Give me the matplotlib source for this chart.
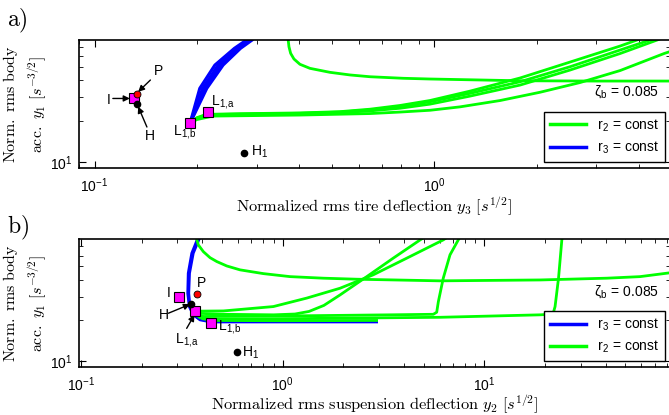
import numpy as np
import matplotlib
matplotlib.use('Agg')
import matplotlib.pyplot as plt
from matplotlib.lines import Line2D
from matplotlib.ticker import NullFormatter

plt.rcParams['font.family'] = ['Liberation Sans', 'DejaVu Sans']
plt.rcParams['mathtext.fontset'] = 'cm'

GREEN = '#00ff00'
BLUE = '#0000ff'

# ---------------- panel a) : body acc. vs tire deflection ----------------
# r3 = const (blue band, several close curves)
a_blue_y = [19.4, 35.0, 51.9, 68.9, 79.3, 90.0]
a_blue_x1 = [0.191, 0.204, 0.226, 0.258, 0.280, 0.292]
a_blue_x2 = [0.191, 0.208, 0.231, 0.262, 0.284, 0.297]
a_blue_x3 = [0.191, 0.211, 0.235, 0.266, 0.288, 0.301]
a_blue_x4 = [0.191, 0.214, 0.239, 0.269, 0.291, 0.305]

# r2 = const (green)
a_g0_x = [0.3712, 0.3715, 0.3734, 0.3777, 0.3863, 0.4022, 0.4305, 0.493, 0.565, 0.647, 0.810, 0.970, 1.79, 3.0, 5.2]
a_g0_y = [85.0, 79.3, 70.8, 63.3, 57.5, 52.6, 49.1, 45.9, 43.9, 42.6, 41.5, 41.0, 39.8, 39.6, 39.6]

a_g1_x = [0.191, 0.200, 0.2084, 0.223, 0.2679, 0.4022, 0.5276, 0.6466, 0.7924, 0.9712, 1.274, 1.788, 2.509, 3.523, 3.95, 4.25]
a_g1_y = [19.4, 21.3, 22.1, 22.6, 22.8, 23.1, 23.6, 24.6, 26.2, 28.5, 33.4, 41.7, 54.6, 71.6, 79.3, 86.0]
a_g2_x = [0.191, 0.200, 0.2084, 0.223, 0.2679, 0.4022, 0.5276, 0.6466, 0.7924, 0.9712, 1.274, 1.788, 2.509, 3.523, 4.316, 4.618]
a_g2_y = [19.4, 21.17, 21.9, 22.46, 22.65, 22.96, 23.44, 24.32, 25.72, 27.9, 32.17, 39.14, 50.46, 66.94, 79.3, 84.9]
a_g3_x = [0.191, 0.200, 0.2084, 0.223, 0.2679, 0.4022, 0.5276, 0.6466, 0.7924, 0.9712, 1.274, 1.788, 2.509, 3.523, 4.53, 4.9]
a_g3_y = [19.4, 21.0, 21.7, 22.3, 22.5, 22.8, 23.2, 23.9, 25.0, 26.8, 30.7, 37.0, 47.7, 63.1, 79.3, 86.0]
a_g4_x = [0.191, 0.200, 0.223, 0.4022, 0.6466, 0.7924, 0.9712, 1.190, 1.561, 2.048, 2.687, 3.523, 4.746, 5.2]
a_g4_y = [19.4, 20.64, 21.9, 22.28, 22.85, 23.44, 24.16, 25.59, 28.48, 32.77, 38.63, 47.3, 63.1, 68.0]

# marked designs
a_sq_x = [0.1306, 0.216, 0.191]   # I, L1a, L1b
a_sq_y = [29.5, 23.3, 19.4]
a_P = (0.133, 31.8)
a_H = (0.133, 26.8)
a_H1 = (0.276, 11.8)

# ---------------- panel b) : body acc. vs suspension deflection ----------------
b_blue1_x = [0.385, 0.377, 0.354, 0.340, 0.338, 0.344, 0.360, 0.389, 0.441, 1.22, 2.92]
b_blue1_y = [85.0, 78.6, 62.4, 44.5, 31.7, 25.3, 22.0, 20.2, 19.5, 19.5, 19.5]
b_blue2_x = [0.392, 0.384, 0.360, 0.345, 0.342, 0.347, 0.362, 0.390, 0.441, 1.22, 2.92]
b_blue2_y = [85.0, 78.6, 62.4, 44.5, 31.7, 25.3, 22.0, 20.4, 19.7, 19.7, 19.7]

b_g0_x = [0.375, 0.375, 0.3815, 0.404, 0.436, 0.471, 0.528, 0.614, 0.801, 1.087, 1.59, 2.33, 6.03, 18.9, 40.4, 59.1, 85.0]
b_g0_y = [85.0, 78.6, 71.9, 64.1, 57.9, 54.2, 50.3, 47.1, 44.2, 42.0, 40.9, 40.2, 39.1, 39.7, 40.9, 42.0, 45.0]

b_g1_x = [0.369, 0.508, 0.898, 1.315, 1.923, 2.81, 4.12, 6.25, 6.9]
b_g1_y = [23.4, 23.5, 25.3, 29.2, 34.5, 43.3, 57.4, 78.2, 86.0]
b_g2_x = [0.375, 0.508, 0.9, 1.15, 1.35, 1.6, 1.923, 2.61, 3.53, 4.80, 5.3]
b_g2_y = [22.6, 22.2, 22.0, 22.3, 23.3, 25.8, 30.8, 42.0, 57.4, 78.2, 86.0]
b_g3_x = [0.37, 0.404, 1.087, 3.40, 5.58, 5.80, 5.91, 6.25, 6.75, 7.42, 7.7]
b_g3_y = [22.4, 21.4, 21.6, 22.0, 22.2, 23.0, 27.5, 40.9, 60.7, 78.2, 86.0]
b_g4_x = [0.39, 0.441, 1.0, 6.03, 18.9, 21.2, 22.0, 22.4, 23.3, 24.2, 24.6]
b_g4_y = [21.0, 20.5, 20.6, 21.1, 22.0, 22.2, 23.0, 25.3, 40.9, 78.2, 86.0]
b_g5_x = [0.37, 0.40, 0.45, 1.0, 2.92]
b_g5_y = [22.0, 20.6, 20.0, 19.9, 20.0]

b_sq_x = [0.307, 0.369, 0.441]    # I, L1a, L1b
b_sq_y = [29.6, 23.4, 19.2]
b_P = (0.375, 31.5)
b_H = (0.351, 26.5)
b_H1 = (0.592, 11.8)

zeta_text = r'ζ$_{\mathdefault{b}}$ = 0.085'
ylab = r'$\mathrm{Norm.\ rms\ body}$' + '\n' + r'$\mathrm{acc.}\ y_1\ [s^{-3/2}]$'
L1a = r'L$_{\mathdefault{1{,}a}}$'
L1b = r'L$_{\mathdefault{1{,}b}}$'

fig = plt.figure(figsize=(6.69, 4.15), dpi=100)
ax1 = fig.add_axes([0.1181, 0.5952, 0.8834, 0.3084])
ax2 = fig.add_axes([0.1181, 0.1157, 0.8834, 0.3084])

arrow = dict(arrowstyle='-|>', color='k', lw=1.0, mutation_scale=9, shrinkA=0, shrinkB=0)


def style_axes(ax):
    ax.set_xscale('log')
    ax.set_yscale('log')
    ax.xaxis.set_minor_formatter(NullFormatter())
    ax.yaxis.set_minor_formatter(NullFormatter())
    ax.tick_params(which='both', direction='in', top=True, right=True, labelsize=10)
    ax.tick_params(which='major', length=5, width=0.8, pad=6)
    ax.tick_params(axis='y', which='major', pad=4.5)
    ax.tick_params(which='minor', length=3, width=0.6)
    for s in ax.spines.values():
        s.set_linewidth(1.2)
    ax.set_ylabel(ylab, fontsize=11.5, linespacing=1.45)
    ax.yaxis.set_label_coords(-0.05, 0.5)


# panel a
for gx, gy in ((a_g0_x, a_g0_y), (a_g1_x, a_g1_y), (a_g2_x, a_g2_y),
               (a_g3_x, a_g3_y), (a_g4_x, a_g4_y)):
    ax1.plot(gx, gy, color=GREEN, lw=2)
for bx in (a_blue_x1, a_blue_x2, a_blue_x3, a_blue_x4):
    ax1.plot(bx, a_blue_y, color=BLUE, lw=2.2)
ax1.plot(a_sq_x, a_sq_y, 's', ms=7, mfc='#ff00ff', mec='k', mew=0.8, zorder=5)
ax1.plot(*a_P, 'o', ms=5, mfc='#ff0000', mec='k', mew=0.6, zorder=6)
ax1.plot(*a_H, 'o', ms=4.5, color='k', zorder=6)
ax1.plot(*a_H1, 'o', ms=4.5, color='k', zorder=6)
ax1.annotate('', xy=(0.127, 29.5), xytext=(0.1132, 29.5), arrowprops=arrow)
ax1.annotate('', xy=(0.1344, 33.0), xytext=(0.146, 40.3), arrowprops=arrow)
ax1.annotate('', xy=(0.1344, 25.7), xytext=(0.1426, 18.2), arrowprops=arrow)
ax1.text(0.1089, 26.8, 'I', fontsize=10)
ax1.text(0.1495, 43.9, 'P', fontsize=10)
ax1.text(0.1406, 14.6, 'H', fontsize=10)
ax1.text(0.2196, 26.4, L1a, fontsize=10)
ax1.text(0.170, 15.9, L1b, fontsize=10)
ax1.text(0.288, 11.3, r'H$_{\mathdefault{1}}$', fontsize=10)
style_axes(ax1)
ax1.set_xlim(0.090, 4.94)
ax1.set_ylim(9.1, 79.3)
ax1.set_xlabel(r'$\mathrm{Normalized\ rms\ tire\ deflection}\ y_3\ [s^{1/2}]$', fontsize=11.8)
ax1.xaxis.set_label_coords(0.5, -0.212)
ax1.text(0.981, 0.596, zeta_text, transform=ax1.transAxes, ha='right', va='center', fontsize=10)
h_g = Line2D([], [], color=GREEN, lw=2.5)
h_b = Line2D([], [], color=BLUE, lw=2.5)
leg = ax1.legend([h_g, h_b], [r'r$_{\mathdefault{2}}$ = const', r'r$_{\mathdefault{3}}$ = const'],
                 loc='lower right', bbox_to_anchor=(0.9915, 0.049), borderaxespad=0,
                 fancybox=False, framealpha=1, edgecolor='k', fontsize=10,
                 handlelength=2.6, labelspacing=0.45)
leg.get_frame().set_linewidth(1.0)

# panel b
ax2.plot(b_blue1_x, b_blue1_y, color=BLUE, lw=2)
ax2.plot(b_blue2_x, b_blue2_y, color=BLUE, lw=2)
for gx, gy in ((b_g0_x, b_g0_y), (b_g1_x, b_g1_y), (b_g2_x, b_g2_y),
               (b_g3_x, b_g3_y), (b_g4_x, b_g4_y), (b_g5_x, b_g5_y)):
    ax2.plot(gx, gy, color=GREEN, lw=2)
ax2.plot(b_sq_x, b_sq_y, 's', ms=7, mfc='#ff00ff', mec='k', mew=0.8, zorder=5)
ax2.plot(*b_P, 'o', ms=5, mfc='#ff0000', mec='k', mew=0.6, zorder=6)
ax2.plot(*b_H, 'o', ms=4.5, color='k', zorder=6)
ax2.plot(*b_H1, 'o', ms=4.5, color='k', zorder=6)
ax2.annotate('', xy=(0.347, 26.3), xytext=(0.271, 22.6), arrowprops=arrow)
ax2.annotate('', xy=(0.365, 22.0), xytext=(0.334, 17.5), arrowprops=arrow)
ax2.text(0.266, 30.0, 'I', fontsize=10)
ax2.text(0.377, 35.5, 'P', fontsize=10)
ax2.text(0.2436, 20.4, 'H', fontsize=10)
ax2.text(0.292, 13.7, L1a, fontsize=10)
ax2.text(0.480, 17.0, L1b, fontsize=10)
ax2.text(0.626, 10.8, r'H$_{\mathdefault{1}}$', fontsize=10)
style_axes(ax2)
ax2.set_xlim(0.0977, 83.2)
ax2.set_ylim(9.1, 79.4)
ax2.set_xlabel(r'$\mathrm{Normalized\ rms\ suspension\ deflection}\ y_2\ [s^{1/2}]$', fontsize=11.8)
ax2.xaxis.set_label_coords(0.5, -0.205)
ax2.text(0.981, 0.586, zeta_text, transform=ax2.transAxes, ha='right', va='center', fontsize=10)
leg2 = ax2.legend([h_b, h_g], [r'r$_{\mathdefault{3}}$ = const', r'r$_{\mathdefault{2}}$ = const'],
                  loc='lower right', bbox_to_anchor=(0.9915, 0.047), borderaxespad=0,
                  fancybox=False, framealpha=1, edgecolor='k', fontsize=10,
                  handlelength=2.6, labelspacing=0.45)
leg2.get_frame().set_linewidth(1.0)

fig.text(0.0105, 0.936, r'$\mathrm{a)}$', fontsize=17, va='baseline')
fig.text(0.0105, 0.4386, r'$\mathrm{b)}$', fontsize=17, va='baseline')

fig.savefig('out.png', dpi=100, facecolor='white')
